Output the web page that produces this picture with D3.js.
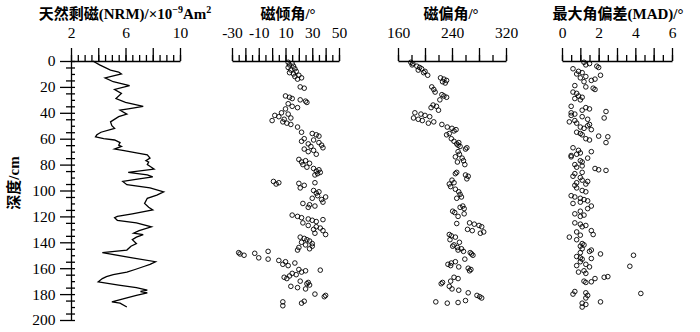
<!DOCTYPE html>
<html>
<head>
<meta charset="utf-8">
<script src="https://cdn.jsdelivr.net/npm/d3@7"></script>
<style>
  body { margin: 0; background: #fff; }
  text { fill: #000; }
</style>
</head>
<body>
<script>
// NRM curve (x10^-9 Am2) against depth (cm)
const nrmDepth = [0, 3, 7, 8.5, 10, 13, 16, 19, 22, 25, 29, 32, 35, 37, 38, 41, 43, 47, 50, 52, 55, 57, 58.5, 60, 61, 63, 65, 66, 68, 69, 71, 72.5, 75, 77, 78, 80, 82, 83.5, 86, 88, 89.5, 91, 93, 95.5, 98, 101, 103.5, 106, 110, 113, 115, 118, 120, 121, 123, 125, 128, 131, 133, 134, 136, 138, 141, 143, 146, 148, 152, 155, 157, 158.5, 161, 163, 165, 166.5, 168, 170.5, 173, 175, 177, 178, 179, 181, 183, 186, 187, 190];
const nrmValue = [3.6, 4.1, 4.9, 5.5, 5.7, 4.5, 5.1, 6.3, 5.2, 5.7, 5.3, 6.0, 7.3, 6.2, 5.6, 6.1, 5.5, 4.9, 5.0, 5.2, 4.2, 3.9, 3.8, 4.4, 5.2, 5.6, 5.5, 5.7, 5.2, 5.8, 6.8, 7.6, 7.8, 7.5, 7.7, 7.6, 7.9, 8.1, 6.2, 7.6, 8.0, 7.0, 5.8, 6.1, 7.8, 8.8, 8.3, 7.6, 7.4, 7.7, 8.0, 6.5, 5.4, 5.2, 5.4, 6.8, 7.9, 7.0, 6.6, 7.3, 6.8, 6.5, 6.8, 6.4, 6.1, 4.3, 6.5, 8.2, 7.8, 7.4, 6.7, 6.1, 5.1, 4.6, 4.3, 4.0, 5.5, 6.8, 7.6, 7.1, 7.6, 6.8, 6.1, 5.0, 5.6, 6.1];

// inclination [depth, degrees]
const inclination = [
  [1, 12], [2, 15], [3, 13], [4, 16], [5, 12], [6, 17], [7, 14], [8, 18], [9, 13], [10, 16], [11, 20], [12, 17], [13, 22], [14, 19],
  [20, 21], [21, 24], [27, 10], [28, 13], [29, 15], [30, 21], [31, 25], [32, 26], [33, 12], [35, 15], [36, 19], [37, 10],
  [40, 7], [41, 12], [42, 2], [43, 5], [44, 14], [45, 9], [46, 0], [47, 8], [48, 11], [49, 14],
  [51, 19], [55, 22], [56, 30], [57, 33], [58, 35], [60, 24], [61, 31], [62, 22], [63, 35], [64, 27], [65, 37], [66, 29], [67, 38], [68, 24], [69, 31], [70, 27], [72, 33],
  [76, 20], [77, 25], [78, 22], [79, 28], [80, 23], [82, 26],
  [83, 31], [84, 35], [85, 33], [86, 36], [87, 34], [88, 32],
  [93, 1], [94, 5], [95, 3], [94.5, 20], [96, 24], [98, 21], [94, 32],
  [100, 31], [101, 35], [102, 33], [104, 34], [105, 40], [106, 30], [107, 37], [109, 38],
  [110, 23], [111, 28], [112, 32], [113, 27],
  [119, 15], [120, 19], [121, 22], [122, 27], [123, 30], [124, 33], [122.5, 38],
  [125, 23], [127, 27], [128, 33], [129, 36], [130, 31], [131, 38], [133, 32], [134, 40],
  [136, 21], [137, 24], [138, 26], [139, 28], [140, 22], [141, 30], [142, 25], [143, 30], [144, 20], [145, 28], [146, 19],
  [148, -25], [149, -24], [150, -21], [148.5, -13], [152, -10], [147, -3], [153, -3],
  [154, 5], [155, 10], [156, 17], [157, 8], [158, 12],
  [161, 20], [162, 25], [163, 22], [164, 15], [165, 18], [166, 13], [167, 9], [168, 11], [161.5, 36],
  [170, 21], [171, 27], [172, 26], [173, 28], [174, 14], [175, 19], [176, 25],
  [180, 32], [181, 40], [182, 39],
  [186, 8], [189, 8], [187, 22], [185.5, 24]
];

// declination [depth, degrees]
const declination = [
  [1, 179], [2, 182], [3, 181], [4, 188], [5, 192], [6, 195], [7, 190], [8, 200], [9, 198], [11, 204],
  [13, 223], [14, 228], [15, 232], [16, 226], [17, 230],
  [20, 210], [22, 213], [24, 215], [26, 225], [27, 228], [28, 232], [30, 222],
  [34, 212], [35, 217], [36, 209], [38, 220],
  [40, 185], [41, 194], [42, 200], [43, 207], [44, 183], [45, 190], [46, 196], [47, 213], [48, 205], [49, 225],
  [51, 233], [52, 240], [53, 246], [54, 243], [56, 236], [57, 232],
  [60, 239], [62, 243], [63, 250], [64, 247], [65, 249], [66, 252], [67, 262], [68, 260],
  [70, 249], [72, 251], [74, 245], [75, 255], [77, 257], [78, 248], [80, 259],
  [86, 247], [87, 245], [88, 260], [89, 264], [91, 262],
  [92, 240], [94, 243], [95, 236], [97, 238], [99, 245], [101, 250], [103, 252], [105, 254], [106, 247],
  [112, 256], [113, 252], [114, 258], [116, 241], [117, 244], [118, 258], [120, 249],
  [125, 266], [126, 273], [127, 280], [128, 284], [125.5, 247],
  [130, 263], [131, 270], [132, 287], [133, 282],
  [134, 236], [135, 239], [136, 245], [138, 237],
  [140, 251], [142, 243], [143, 241], [144, 248], [145, 254], [146, 249], [147, 257],
  [148, 267], [149, 269], [150, 271],
  [153, 259], [155, 245], [156, 239], [157, 234], [158, 238],
  [159, 250], [160, 264], [161, 268], [162, 266],
  [167, 243], [168, 249], [170, 238], [171, 226], [172, 224], [174, 236], [176, 240],
  [177, 250], [179, 264], [181, 277], [182, 281], [183, 284],
  [185, 260], [186, 216], [187, 233], [186.5, 249]
];

// MAD [depth, degrees]
const mad = [
  [1, 1.2], [2, 1.5], [3, 1.3], [4, 1.9], [5, 2.0], [6, 0.6],
  [8, 0.9], [9, 1.1], [10, 0.8], [11, 2.1], [12, 1.3], [13, 1.0], [14, 1.8], [15, 1.6], [16, 1.2],
  [19, 0.7], [20, 1.3], [21, 1.7], [22, 1.8],
  [24, 0.6], [25, 0.8], [27, 0.9], [28, 1.1], [29, 0.7], [30, 1.0],
  [35, 0.5], [36, 1.3], [37, 1.5], [38, 1.1], [39, 2.4], [40, 0.5], [41, 0.7],
  [42, 0.5], [43, 1.1], [44, 2.3], [45, 1.4],
  [46, 0.7], [47, 0.4], [48, 0.8], [49, 1.5], [50, 1.4], [51, 1.0], [52, 1.2], [53, 1.6], [55, 0.8], [56, 1.0], [57, 1.1], [60, 1.3], [61, 1.5], [58, 2.0], [58.5, 2.5], [63, 2.4],
  [67, 0.6], [69, 0.9], [71, 1.0], [72, 0.8], [73, 0.5], [74, 0.5], [70, 1.6], [75, 1.4],
  [77, 1.0], [78, 1.1], [80, 0.7], [81, 1.1], [82, 0.8], [83, 1.8], [84, 2.0], [84.5, 2.4],
  [86, 1.1], [87, 0.7], [89, 0.6], [90, 1.0], [92, 1.1], [93, 1.4], [94, 0.8], [96, 0.7], [98, 0.8], [95, 1.3], [100, 1.1], [101, 1.3],
  [104, 0.5], [105, 0.7], [106, 1.0], [107, 1.2], [108, 1.4], [110, 0.6], [109, 1.0], [112, 1.6], [114, 1.4],
  [116, 1.0], [118, 0.7], [119, 1.2], [120, 1.0],
  [125, 0.7], [126, 1.0], [127, 1.3], [128, 1.1], [131, 1.6], [134, 1.7], [132, 0.8], [134.5, 1.0], [136, 0.4], [138, 0.8],
  [141, 1.1], [142, 1.2], [143, 1.0], [145, 1.1], [146, 1.6], [147, 1.5], [148, 1.0], [149, 2.1], [150, 3.9],
  [151, 0.8], [152, 1.0], [153, 1.1], [152.5, 1.6], [155, 1.0], [158, 0.8], [157, 1.3], [159, 1.5], [158.5, 3.7],
  [163, 0.9], [162, 1.2], [164, 1.3], [168, 1.8], [170, 1.2], [171, 1.3], [170.5, 1.6], [167, 2.3], [166.5, 2.5],
  [178, 0.7], [180, 0.6], [179, 1.3], [181, 1.4], [179.5, 4.3],
  [183, 1.3], [186, 2.1], [187, 1.1], [188, 1.3], [190, 1.1]
];

// axis ticks
const nrmTicks = [2, 6, 10];
const incTicks = [-30, -10, 10, 30, 50];
const decTicks = [160, 240, 320];
const madTicks = [0, 2, 4, 6];
const depthTicks = [0, 20, 40, 60, 80, 100, 120, 140, 160, 180, 200];

const width = 700, height = 332;
const plotTop = 61, plotBottom = 320;

const svg = d3.select("body").append("svg")
  .attr("width", width)
  .attr("height", height);

const serif = "'Liberation Serif', 'Times New Roman', serif";
const cjk = "'Liberation Serif', 'Noto Sans CJK SC', serif";

const yScale = d3.scaleLinear().domain([0, 200]).range([plotTop, plotBottom]);

// a top axis with tall/short ticks, labels only on some
function topAxis(scale, tall, short, labels) {
  const g = svg.append("g").attr("transform", "translate(0," + plotTop + ")");
  g.append("g")
    .call(d3.axisTop(scale).tickValues(short).tickSize(6).tickSizeOuter(0).tickFormat(""))
    .call(a => a.select(".domain").remove());
  const ax = g.append("g")
    .call(d3.axisTop(scale).tickValues(tall).tickSize(13).tickSizeOuter(0)
      .tickFormat(d => labels.includes(d) ? d : ""));
  g.selectAll("line, path").attr("stroke", "#000").attr("stroke-width", 1.3);
  ax.attr("font-family", null);
  ax.selectAll("text")
    .style("font-family", serif)
    .style("font-size", "15.5px")
    .attr("dy", "-0.45em")
    .text(d => labels.includes(d) ? String(d) : "");
  return g;
}

function title(x, str) {
  return svg.append("text")
    .attr("x", x).attr("y", 19)
    .attr("text-anchor", "middle")
    .style("font-family", cjk)
    .style("font-weight", "bold")
    .style("font-size", "15px")
    .text(str);
}

function scatter(scale, data) {
  svg.append("g").selectAll("circle")
    .data(data)
    .join("circle")
    .attr("cx", d => scale(d[1]))
    .attr("cy", d => yScale(d[0]))
    .attr("r", 2.3)
    .attr("fill", "none")
    .attr("stroke", "#000")
    .attr("stroke-width", 0.9);
}

// ---- panel 1: NRM
const xNrm = d3.scaleLinear().domain([2, 10]).range([71, 180]);
topAxis(xNrm, d3.range(2, 10.01, 2), d3.range(2, 10.01, 0.5), nrmTicks);

// depth axis
const yg = svg.append("g").attr("transform", "translate(71,0)");
yg.append("g")
  .call(d3.axisRight(yScale).tickValues(d3.range(0, 201, 5)).tickSize(4).tickFormat(""))
  .call(a => a.select(".domain").remove());
yg.append("g")
  .call(d3.axisLeft(yScale).tickValues(d3.range(5, 200, 10)).tickSize(5).tickFormat(""))
  .call(a => a.select(".domain").remove());
yg.append("g")
  .call(d3.axisLeft(yScale).tickValues(depthTicks).tickSize(11).tickSizeOuter(0))
  .call(a => a.attr("font-family", null).selectAll("text")
    .style("font-family", serif).style("font-size", "15.5px").attr("dx", "-0.1em"));
yg.selectAll("line, path").attr("stroke", "#000").attr("stroke-width", 1.3);

svg.append("text")
  .attr("transform", "translate(19,183) rotate(-90)")
  .attr("text-anchor", "middle")
  .style("font-family", cjk)
  .style("font-weight", "bold")
  .style("font-size", "15px")
  .text("深度/cm");

const nrmLine = d3.line()
  .x((d, i) => xNrm(nrmValue[i]))
  .y(d => yScale(d));
svg.append("path")
  .attr("d", nrmLine(nrmDepth))
  .attr("fill", "none")
  .attr("stroke", "#000")
  .attr("stroke-width", 1.3);

const t1 = title(125, "");
t1.append("tspan").text("天然剩磁(NRM)/×10");
t1.append("tspan").style("font-size", "10px").attr("dy", -6).text("−9");
t1.append("tspan").attr("dy", 6).text("Am");
t1.append("tspan").style("font-size", "10px").attr("dy", -6).text("2");

// ---- panel 2: inclination
const xInc = d3.scaleLinear().domain([-30, 50]).range([232, 339]);
topAxis(xInc, d3.range(-30, 51, 10), d3.range(-30, 51, 5), incTicks);
title(288, "磁倾角/°");
scatter(xInc, inclination);

// ---- panel 3: declination
const xDec = d3.scaleLinear().domain([160, 320]).range([398, 506]);
topAxis(xDec, d3.range(160, 321, 40), d3.range(160, 321, 20), decTicks);
title(451, "磁偏角/°");
scatter(xDec, declination);

// ---- panel 4: MAD
const xMad = d3.scaleLinear().domain([0, 6]).range([562, 672]);
topAxis(xMad, d3.range(0, 6.01, 1), d3.range(0, 6.01, 0.5), madTicks);
title(618, "最大角偏差(MAD)/°");
scatter(xMad, mad);
</script>
</body>
</html>
